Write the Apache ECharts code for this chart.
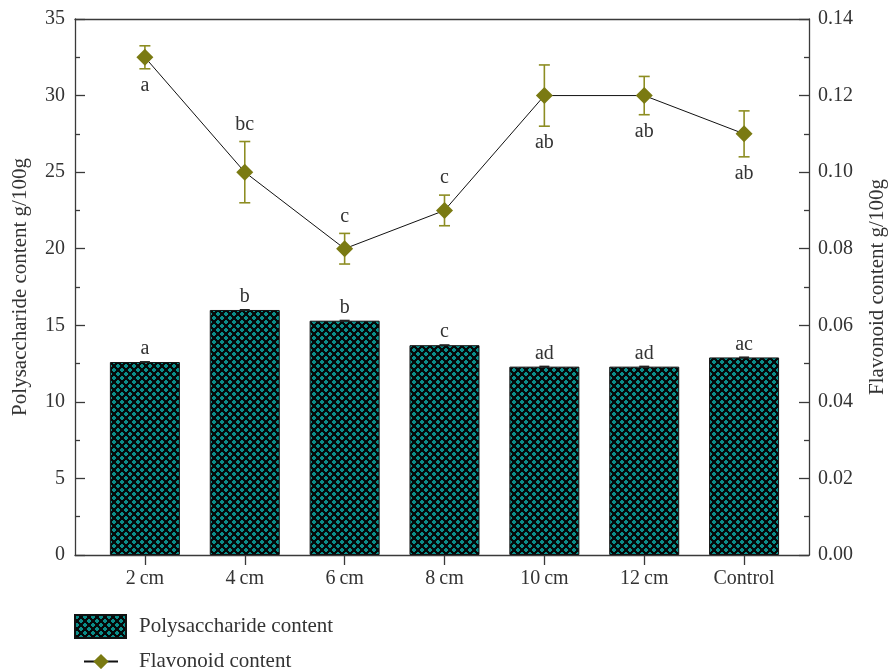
<!DOCTYPE html>
<html>
<head>
<meta charset="utf-8">
<script src="https://cdn.jsdelivr.net/npm/echarts@6/dist/echarts.min.js"></script>
<style>
  html, body { margin: 0; padding: 0; background: #fff; }
  #chart { width: 889px; height: 669px; }
</style>
</head>
<body>
<div id="chart"></div>
<script>
// Planting distance treatments
const categories = ['2\u2009cm', '4\u2009cm', '6\u2009cm', '8\u2009cm', '10\u2009cm', '12\u2009cm', 'Control'];

// Polysaccharide content (g/100g), left axis
const polysaccharide = [12.6, 16.0, 15.3, 13.7, 12.3, 12.3, 12.9];
const polysaccharideLetters = ['a', 'b', 'b', 'c', 'ad', 'ad', 'ac'];

// Flavonoid content (g/100g), right axis, with standard deviation
const flavonoid = [0.130, 0.100, 0.080, 0.090, 0.120, 0.120, 0.110];
const flavonoidError = [0.003, 0.008, 0.004, 0.004, 0.008, 0.005, 0.006];
const flavonoidLetters = ['a', 'bc', 'c', 'c', 'ab', 'ab', 'ab'];
const flavonoidLetterSide = ['below', 'above', 'above', 'above', 'below', 'below', 'below'];

const FONT = "'Liberation Serif', 'DejaVu Serif', serif";
const TEXT = '#333';
const AXIS = '#3a3a3a';
const OLIVE = '#7a7a12';
const OLIVE_ERR = '#8d8d22';

// Teal fill with black cross-hatching
function hatchPattern() {
  const c = document.createElement('canvas');
  c.width = 8; c.height = 8;
  const g = c.getContext('2d');
  g.fillStyle = '#050a0a';
  g.fillRect(0, 0, 8, 8);
  g.fillStyle = '#0b8d89';
  // two staggered plus-shaped openings per tile
  g.fillRect(1, 0, 2, 4); g.fillRect(0, 1, 4, 2);
  g.fillRect(5, 4, 2, 4); g.fillRect(4, 5, 4, 2);
  return { image: c, repeat: 'repeat' };
}

const positions = categories.map((_, i) => i + 1);

const chart = echarts.init(document.getElementById('chart'), null, { renderer: 'canvas' });

const axisLineStyle = { color: AXIS, width: 1.3 };

chart.setOption({
  animation: false,
  backgroundColor: '#fff',
  grid: { left: 75, right: 80, top: 19, bottom: 114, containLabel: false, outerBoundsMode: 'none' },
  legend: [
    {
      data: ['Polysaccharide content'],
      orient: 'vertical', left: 74, top: 614, padding: 0,
      itemWidth: 51, itemHeight: 23, icon: 'rect',
      selectedMode: false,
      textStyle: { fontFamily: FONT, fontSize: 21, color: TEXT, padding: [0, 0, 0, 8] }
    },
    {
      data: ['Flavonoid content'],
      orient: 'vertical', left: 83, top: 651, padding: 0,
      itemWidth: 34, itemHeight: 19,
      selectedMode: false,
      textStyle: { fontFamily: FONT, fontSize: 21, color: TEXT, padding: [0, 0, 0, 16] }
    }
  ],
  xAxis: [
    {
      type: 'value', position: 'bottom', min: 0.3, max: 7.65,
      axisLine: { show: true, onZero: false, lineStyle: axisLineStyle },
      axisTick: { show: true, inside: false, length: 10, customValues: positions, lineStyle: axisLineStyle },
      axisLabel: {
        customValues: positions, margin: 14,
        fontFamily: FONT, fontSize: 20, color: TEXT,
        formatter: v => categories[Math.round(v) - 1]
      },
      splitLine: { show: false }
    },
    {
      type: 'value', position: 'top', min: 0.3, max: 7.65,
      axisLine: { show: true, onZero: false, lineStyle: axisLineStyle },
      axisTick: { show: false }, axisLabel: { show: false }, splitLine: { show: false }
    }
  ],
  yAxis: [
    {
      type: 'value', position: 'left', min: 0, max: 35, interval: 5,
      name: 'Polysaccharide content g/100g', nameLocation: 'middle', nameGap: 44,
      nameTextStyle: { fontFamily: FONT, fontSize: 21, color: TEXT },
      axisLine: { show: true, onZero: false, lineStyle: axisLineStyle },
      axisTick: { show: true, inside: true, length: 10, lineStyle: axisLineStyle },
      minorTick: { show: true, splitNumber: 2, length: 5, lineStyle: axisLineStyle },
      axisLabel: { margin: 10, fontFamily: FONT, fontSize: 20, color: TEXT },
      splitLine: { show: false }
    },
    {
      type: 'value', position: 'right', min: 0, max: 0.14, interval: 0.02,
      name: 'Flavonoid content g/100g', nameLocation: 'middle', nameGap: 58,
      nameTextStyle: { fontFamily: FONT, fontSize: 21, color: TEXT },
      axisLine: { show: true, onZero: false, lineStyle: axisLineStyle },
      axisTick: { show: true, inside: true, length: 10, lineStyle: axisLineStyle },
      minorTick: { show: true, splitNumber: 2, length: 5, lineStyle: axisLineStyle },
      axisLabel: { margin: 9, fontFamily: FONT, fontSize: 20, color: TEXT, formatter: v => v.toFixed(2) },
      splitLine: { show: false }
    }
  ],
  series: [
    {
      name: 'Polysaccharide content',
      type: 'bar', xAxisIndex: 0, yAxisIndex: 0,
      barWidth: 70,
      data: polysaccharide.map((v, i) => [positions[i], v]),
      itemStyle: { color: hatchPattern(), borderColor: '#111', borderWidth: 1 },
      label: {
        show: true, position: 'top', distance: 3,
        fontFamily: FONT, fontSize: 20, color: TEXT,
        formatter: p => polysaccharideLetters[p.dataIndex]
      },
      z: 2
    },
    {
      // short dark cap sitting on each bar top
      type: 'custom', xAxisIndex: 0, yAxisIndex: 0, silent: true, z: 3,
      data: polysaccharide.map((v, i) => [positions[i], v]),
      encode: { x: 0, y: 1 },
      renderItem(params, api) {
        const p = api.coord([api.value(0), api.value(1)]);
        return {
          type: 'line',
          shape: { x1: p[0] - 5, y1: p[1], x2: p[0] + 5, y2: p[1] },
          style: { stroke: '#222', lineWidth: 2 }
        };
      }
    },
    {
      // flavonoid error bars
      type: 'custom', xAxisIndex: 0, yAxisIndex: 1, silent: true, z: 3,
      data: flavonoid.map((v, i) => [positions[i], v - flavonoidError[i], v + flavonoidError[i]]),
      encode: { x: 0, y: [1, 2] },
      renderItem(params, api) {
        const x = api.value(0);
        const lo = api.coord([x, api.value(1)]);
        const hi = api.coord([x, api.value(2)]);
        const hw = 5.5;
        const st = { stroke: OLIVE_ERR, lineWidth: 1.6 };
        return {
          type: 'group',
          children: [
            { type: 'line', shape: { x1: lo[0], y1: lo[1], x2: hi[0], y2: hi[1] }, style: st },
            { type: 'line', shape: { x1: lo[0] - hw, y1: lo[1], x2: lo[0] + hw, y2: lo[1] }, style: st },
            { type: 'line', shape: { x1: hi[0] - hw, y1: hi[1], x2: hi[0] + hw, y2: hi[1] }, style: st }
          ]
        };
      }
    },
    {
      name: 'Flavonoid content',
      type: 'line', xAxisIndex: 0, yAxisIndex: 1,
      data: flavonoid.map((v, i) => [positions[i], v]),
      symbol: 'diamond', symbolSize: 17,
      lineStyle: { color: '#111', width: 1 },
      itemStyle: { color: OLIVE },
      z: 4
    },
    {
      // significance letters beyond the end of each error bar
      type: 'custom', xAxisIndex: 0, yAxisIndex: 1, silent: true, z: 5,
      data: flavonoid.map((v, i) => [
        positions[i],
        flavonoidLetterSide[i] === 'above' ? v + flavonoidError[i] : v - flavonoidError[i]
      ]),
      encode: { x: 0, y: 1 },
      renderItem(params, api) {
        const i = params.dataIndex;
        const p = api.coord([api.value(0), api.value(1)]);
        const dy = flavonoidLetterSide[i] === 'above' ? -17 : 17;
        return {
          type: 'text',
          x: p[0], y: p[1] + dy,
          style: {
            text: flavonoidLetters[i],
            fontFamily: FONT, fontSize: 20, fill: TEXT,
            align: 'center', verticalAlign: 'middle'
          }
        };
      }
    }
  ]
});
</script>
</body>
</html>
